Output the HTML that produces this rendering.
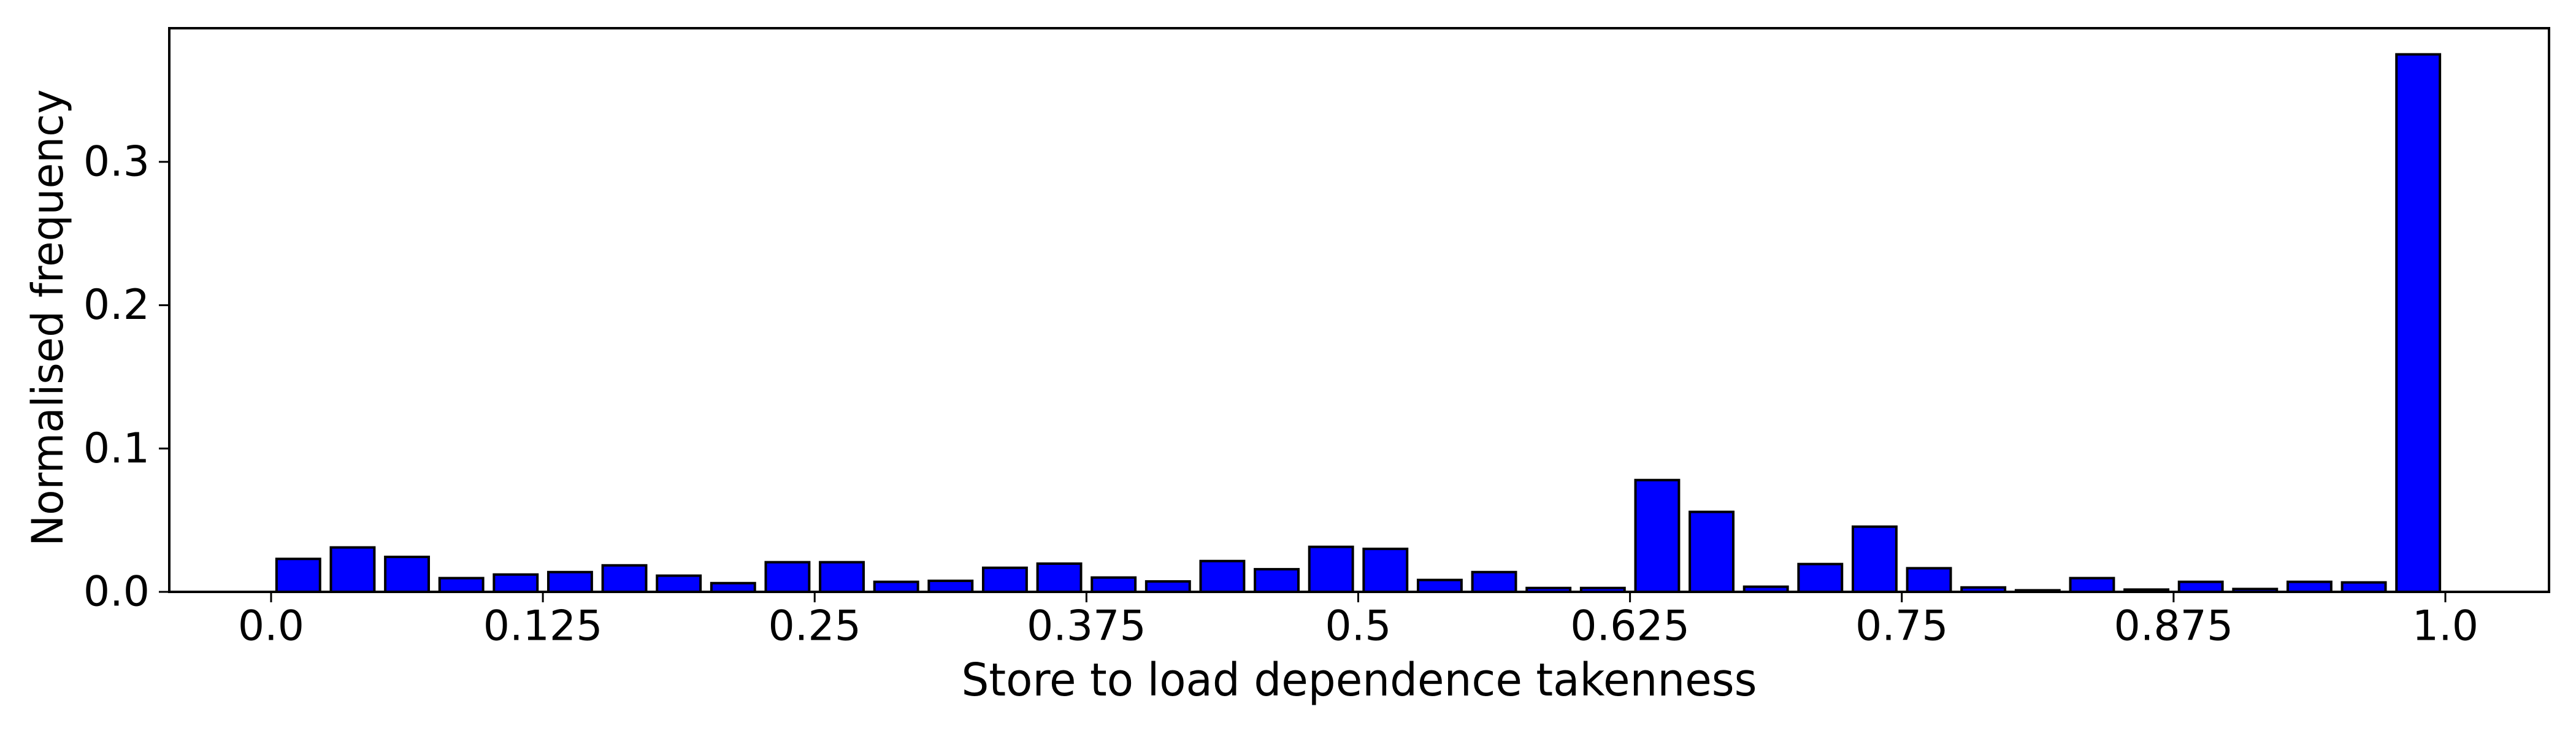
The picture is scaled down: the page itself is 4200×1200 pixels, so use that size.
<!DOCTYPE html>
<html><head><meta charset="utf-8"><style>
html,body{margin:0;padding:0;background:#fff;}
svg{display:block;font-family:"DejaVu Sans","Liberation Sans",sans-serif;}
</style></head><body>
<svg id="chart" width="4200" height="1200" viewBox="0 0 4200 1200" xmlns="http://www.w3.org/2000/svg">
<rect x="0" y="0" width="4200" height="1200" fill="#fff"/>
<g id="bars"></g>
<g id="axes"></g>
<text x="2216" y="1109" font-size="74" text-anchor="middle" dominant-baseline="central" textLength="1297" lengthAdjust="spacingAndGlyphs">Store to load dependence takenness</text>
<text x="0" y="0" font-size="70" text-anchor="middle" transform="translate(102,518) rotate(-90)" textLength="745" lengthAdjust="spacingAndGlyphs">Normalised frequency</text>
</svg>
<script>
const binStarts = [0,0.025,0.05,0.075,0.1,0.125,0.15,0.175,0.2,0.225,0.25,0.275,0.3,0.325,0.35,0.375,0.4,0.425,0.45,0.475,0.5,0.525,0.55,0.575,0.6,0.625,0.65,0.675,0.7,0.725,0.75,0.775,0.8,0.825,0.85,0.875,0.9,0.925,0.95,0.975];
const frequencies = [0.023,0.031,0.0244,0.0096,0.0121,0.0138,0.0185,0.0113,0.0061,0.0207,0.0207,0.007,0.0077,0.0168,0.0197,0.010,0.0073,0.0215,0.0158,0.0314,0.030,0.0083,0.0138,0.0027,0.0027,0.078,0.0558,0.0036,0.0194,0.0455,0.0165,0.0031,0.0011,0.0096,0.0016,0.007,0.002,0.007,0.0066,0.375];
const xTicks = [0,0.125,0.25,0.375,0.5,0.625,0.75,0.875,1.0];
const xTickLabels = ["0.0","0.125","0.25","0.375","0.5","0.625","0.75","0.875","1.0"];
const yTicks = [0,0.1,0.2,0.3];
const yTickLabels = ["0.0","0.1","0.2","0.3"];
const binWidth = 0.025;
const barFrac = 0.8;

const NS = "http://www.w3.org/2000/svg";
const plotL = 276, plotR = 4156, plotT = 46, plotB = 965;
function xScale(v){ return 442 + v * 3545; }
function yScale(v){ return plotB - v * 2337; }
function mk(tag, attrs, parent){ const e = document.createElementNS(NS, tag); for (const k in attrs) e.setAttribute(k, attrs[k]); parent.appendChild(e); return e; }

const barsG = document.getElementById('bars');
for (let i = 0; i < frequencies.length; i++) {
  const c = binStarts[i] + binWidth/2;
  const w = binWidth*barFrac;
  const x0 = xScale(c - w/2), x1 = xScale(c + w/2);
  const y0 = yScale(frequencies[i]);
  const r = mk('rect', {x:x0, y:y0, width:x1-x0, height:plotB-y0, fill:'#0000ff', stroke:'#000', 'stroke-width':4}, barsG);
  
  
}

const axesG = document.getElementById('axes');
const frame = mk('rect', {x:plotL, y:plotT, width:plotR-plotL, height:plotB-plotT, fill:'none', stroke:'#000', 'stroke-width':4}, axesG);



for (let i = 0; i < xTicks.length; i++) {
  const x = xScale(xTicks[i]);
  const t = mk('line', {x1:x, x2:x, y1:plotB, y2:plotB+17, stroke:'#000', 'stroke-width':3}, axesG);
  
  
  const l = mk('text', {x:x, y:1021, 'font-size':68, 'text-anchor':'middle', 'dominant-baseline':'central'}, axesG);
  l.textContent = xTickLabels[i];
  
  
}
for (let i = 0; i < yTicks.length; i++) {
  const y = yScale(yTicks[i]);
  const t = mk('line', {x1:plotL-17, x2:plotL, y1:y, y2:y, stroke:'#000', 'stroke-width':3}, axesG);
  
  
  const l = mk('text', {x:244, y:y, 'font-size':68, 'text-anchor':'end', 'dominant-baseline':'central'}, axesG);
  l.textContent = yTickLabels[i];
  
  
}
</script>
</body></html>
